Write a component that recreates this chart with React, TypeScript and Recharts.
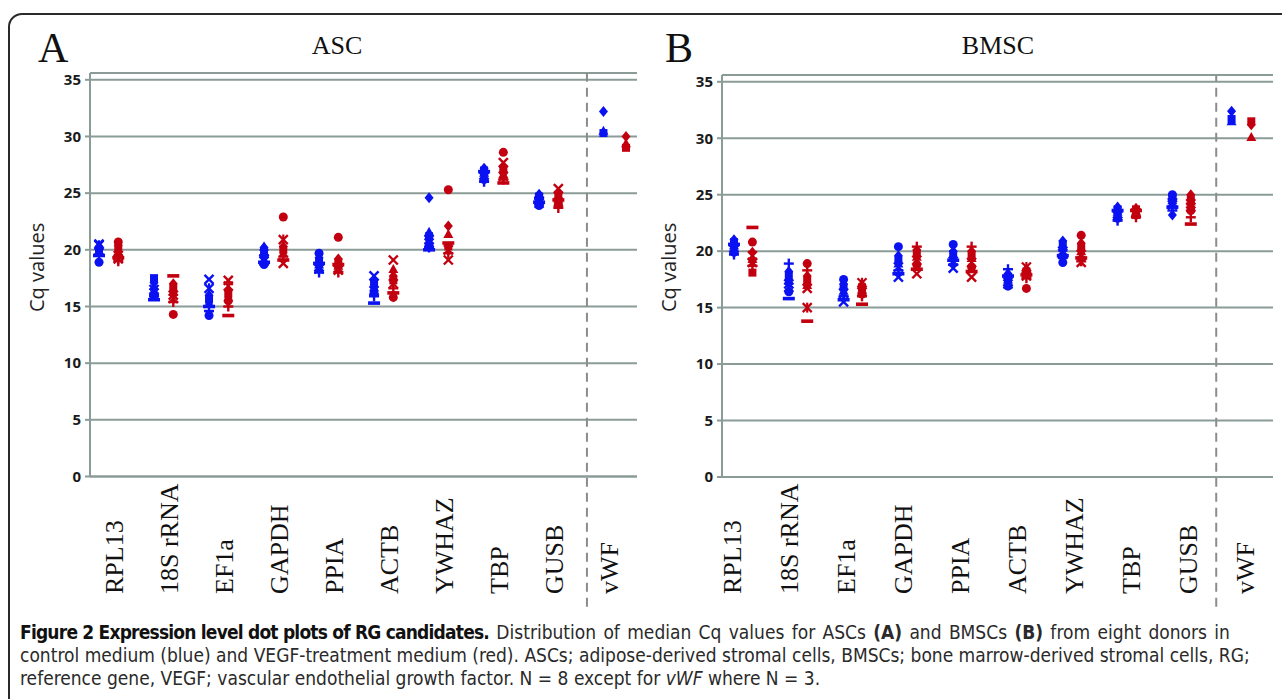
import React from 'react';
import { ScatterChart, Scatter, XAxis, YAxis, CartesianGrid, ReferenceLine } from 'recharts';

// ---------- data ----------
const genes = ['RPL13', '18S rRNA', 'EF1a', 'GAPDH', 'PPIA', 'ACTB', 'YWHAZ', 'TBP', 'GUSB', 'vWF'];
const yTicks = [0, 5, 10, 15, 20, 25, 30, 35];
const markerKinds = ['diamond', 'square', 'triangle', 'x', 'star', 'circle', 'plus', 'dash'];

// ASC, control medium (blue): one row per gene, one value per donor
const ascControl = [
  [20.3, 20.0, 19.8, 20.5, 20.4, 18.9, 19.6, 19.5],
  [17.1, 17.5, 16.8, 16.5, 16.2, 15.9, 16.0, 15.6],
  [16.0, 15.6, 15.3, 17.4, 16.6, 14.2, 14.6, 15.0],
  [20.2, 19.8, 20.3, 19.2, 19.0, 18.7, 19.5, 18.9],
  [19.3, 19.0, 18.7, 18.5, 18.3, 19.7, 18.0, 18.8],
  [17.3, 17.0, 16.7, 17.7, 16.4, 16.2, 15.9, 15.3],
  [24.6, 21.2, 21.6, 20.9, 20.6, 20.4, 20.2, 20.0],
  [27.2, 27.0, 26.8, 26.6, 26.4, 26.2, 26.0, 26.9],
  [24.9, 24.7, 24.5, 24.3, 24.1, 23.9, 24.6, 24.2],
  [32.2, 30.3, 30.5],
];
// ASC, VEGF-treatment medium (red)
const ascVegf = [
  [20.4, 20.1, 19.8, 19.5, 19.2, 20.7, 19.0, 19.3],
  [17.0, 16.6, 16.3, 16.0, 15.7, 14.3, 15.4, 17.7],
  [16.4, 16.1, 15.8, 17.3, 16.8, 15.5, 15.0, 14.2],
  [20.3, 20.0, 19.7, 18.8, 20.9, 22.9, 19.4, 19.1],
  [19.2, 18.9, 18.6, 18.2, 18.4, 21.1, 18.0, 18.7],
  [17.7, 17.3, 18.3, 19.1, 17.0, 15.8, 16.6, 16.2],
  [22.1, 20.3, 21.4, 19.1, 20.0, 25.3, 19.7, 20.6],
  [27.3, 27.0, 26.7, 27.7, 26.5, 28.6, 26.2, 25.9],
  [25.0, 24.7, 24.5, 25.4, 24.2, 24.0, 23.7, 24.4],
  [30.0, 29.0, 29.4],
];
// BMSC, control medium (blue)
const bmscControl = [
  [21.0, 20.8, 20.5, 20.3, 20.1, 19.9, 19.7, 20.6],
  [18.2, 17.8, 17.4, 17.1, 16.8, 16.4, 18.9, 15.8],
  [17.1, 16.8, 16.5, 15.5, 16.3, 17.5, 16.0, 15.7],
  [19.6, 19.2, 18.9, 17.7, 18.6, 20.4, 18.3, 18.0],
  [20.0, 19.7, 19.4, 18.5, 19.1, 20.6, 18.8, 19.2],
  [18.0, 17.7, 17.5, 17.3, 17.1, 16.9, 18.4, 17.8],
  [20.9, 20.6, 20.3, 20.0, 19.8, 19.0, 19.4, 19.6],
  [23.9, 23.7, 23.5, 23.3, 23.1, 22.9, 22.7, 23.6],
  [23.2, 24.8, 24.5, 24.3, 24.1, 25.0, 23.6, 23.9],
  [32.4, 31.7, 31.5],
];
// BMSC, VEGF-treatment medium (red)
const bmscVegf = [
  [19.9, 18.1, 19.3, 19.0, 19.6, 20.8, 18.7, 22.1],
  [17.8, 17.4, 17.0, 16.7, 15.0, 18.9, 18.3, 13.8],
  [17.0, 16.8, 16.6, 16.4, 17.2, 16.2, 16.0, 15.3],
  [20.1, 19.8, 19.5, 18.0, 19.2, 18.8, 20.4, 18.4],
  [20.0, 19.7, 19.4, 17.7, 19.0, 18.6, 20.4, 18.2],
  [18.4, 18.2, 18.0, 17.8, 18.6, 16.7, 17.6, 17.9],
  [20.7, 20.3, 20.0, 19.0, 19.7, 21.4, 19.1, 19.4],
  [23.8, 23.7, 23.5, 23.4, 23.3, 23.2, 23.0, 23.6],
  [25.0, 24.7, 24.4, 24.2, 23.9, 23.6, 23.0, 22.4],
  [31.2, 31.5, 30.1],
];

// ---------- style ----------
const BLUE = '#0a12f2';
const RED = '#c2000f';
const GRID = '#8a9b98';
const SERIF = '"Liberation Serif", "Times New Roman", serif';
const SANS = '"Open Sans", "Noto Sans", sans-serif';

function Marker({ cx, cy, kind, color }: any) {
  if (cx == null || cy == null || isNaN(cx) || isNaN(cy)) return null;
  const s = 4.5;
  switch (kind) {
    case 'diamond':
      return <polygon points={`${cx},${cy - s - 1} ${cx + s},${cy} ${cx},${cy + s + 1} ${cx - s},${cy}`} fill={color} />;
    case 'square':
      return <rect x={cx - s + 0.5} y={cy - s + 0.5} width={2 * s - 1} height={2 * s - 1} fill={color} />;
    case 'triangle':
      return <polygon points={`${cx},${cy - s - 0.5} ${cx + s + 0.5},${cy + s - 0.5} ${cx - s - 0.5},${cy + s - 0.5}`} fill={color} />;
    case 'x':
      return (
        <g stroke={color} strokeWidth={2.4}>
          <line x1={cx - s} y1={cy - s} x2={cx + s} y2={cy + s} />
          <line x1={cx - s} y1={cy + s} x2={cx + s} y2={cy - s} />
        </g>
      );
    case 'star':
      return (
        <g stroke={color} strokeWidth={2.2}>
          <line x1={cx - s} y1={cy - s} x2={cx + s} y2={cy + s} />
          <line x1={cx - s} y1={cy + s} x2={cx + s} y2={cy - s} />
          <line x1={cx} y1={cy - s - 0.5} x2={cx} y2={cy + s + 0.5} />
        </g>
      );
    case 'circle':
      return <circle cx={cx} cy={cy} r={s} fill={color} />;
    case 'plus':
      return (
        <g stroke={color} strokeWidth={2.4}>
          <line x1={cx - s - 0.5} y1={cy} x2={cx + s + 0.5} y2={cy} />
          <line x1={cx} y1={cy - s - 0.5} x2={cx} y2={cy + s + 0.5} />
        </g>
      );
    default:
      return <rect x={cx - 6} y={cy - 1.8} width={12} height={3.6} fill={color} />;
  }
}

function buildSeries(values: number[][], offset: number, vwfPos: number) {
  return markerKinds.map((kind, d) => ({
    kind,
    data: values
      .map((row, i) => (row[d] === undefined ? null : { x: i === genes.length - 1 ? vwfPos : i + offset, y: row[d] }))
      .filter((p) => p !== null),
  }));
}

type PanelProps = {
  left: number;
  width: number;
  marginTop: number;
  marginRight: number;
  xAxisHeight: number;
  xMin: number;
  xMax: number;
  control: number[][];
  vegf: number[][];
  redOffset: number;
  vwfBlue: number;
  vwfRed: number;
  divider: number;
  labelStart: number;
  labelStep: number;
  labelDrop: number;
};

function Panel(p: PanelProps) {
  const blueSeries = buildSeries(p.control, 0, p.vwfBlue);
  const redSeries = buildSeries(p.vegf, p.redOffset, p.vwfRed);
  const labelTicks = genes.map((_, i) => p.labelStart + i * p.labelStep);

  const GeneTick = (tp: any) => {
    const { x, y, index } = tp;
    return (
      <text
        transform={`translate(${x},${y + p.labelDrop}) rotate(-90)`}
        textAnchor="start"
        dy="0.33em"
        fontFamily={SERIF}
        fontSize={26}
        fill="#111"
      >
        {genes[index]}
      </text>
    );
  };

  return (
    <div style={{ position: 'absolute', left: p.left, top: 0 }}>
      <ScatterChart
        width={p.width}
        height={620}
        margin={{ top: p.marginTop, right: p.marginRight, left: 30, bottom: 0 }}
      >
        <CartesianGrid vertical={false} stroke={GRID} strokeWidth={2} />
        <XAxis
          type="number"
          dataKey="x"
          domain={[p.xMin, p.xMax]}
          allowDataOverflow
          ticks={labelTicks}
          interval={0}
          height={p.xAxisHeight}
          tickSize={0}
          tickMargin={0}
          tickLine={false}
          axisLine={{ stroke: GRID, strokeWidth: 2 }}
          tick={<GeneTick />}
        />
        <YAxis
          type="number"
          dataKey="y"
          domain={[0, 35.6]}
          allowDataOverflow
          ticks={yTicks}
          interval={0}
          width={60}
          tickSize={5}
          tickMargin={4}
          axisLine={{ stroke: GRID, strokeWidth: 2 }}
          tickLine={{ stroke: GRID, strokeWidth: 2 }}
          tick={{ fill: '#1a1a1a', fontSize: 15, fontWeight: 700, fontFamily: SANS }}
        />
        <ReferenceLine
          segment={[{ x: p.divider, y: -11.5 }, { x: p.divider, y: 35.6 }]}
          stroke="#8c8c8c"
          strokeWidth={2}
          strokeDasharray="9 6"
          ifOverflow="visible"
        />
        {blueSeries.map((s, k) => (
          <Scatter
            key={`b${k}`}
            data={s.data}
            isAnimationActive={false}
            shape={(sp: any) => <Marker cx={sp.cx} cy={sp.cy} kind={s.kind} color={BLUE} />}
          />
        ))}
        {redSeries.map((s, k) => (
          <Scatter
            key={`r${k}`}
            data={s.data}
            isAnimationActive={false}
            shape={(sp: any) => <Marker cx={sp.cx} cy={sp.cy} kind={s.kind} color={RED} />}
          />
        ))}
      </ScatterChart>
    </div>
  );
}

export default function App() {
  return (
    <div
      style={{
        position: 'absolute',
        left: 0,
        top: 0,
        width: 1282,
        height: 699,
        overflow: 'hidden',
        background: '#fff',
      }}
    >
      <div
        style={{
          position: 'absolute',
          left: 8,
          top: 13,
          width: 1320,
          height: 740,
          border: '2px solid #2a2a2a',
          borderTopLeftRadius: 14,
        }}
      />
      <Panel
        left={0}
        width={660}
        marginTop={73}
        marginRight={23}
        xAxisHeight={143.5}
        xMin={-0.164}
        xMax={9.78}
        control={ascControl}
        vegf={ascVegf}
        redOffset={0.35}
        vwfBlue={9.17}
        vwfRed={9.58}
        divider={8.87}
        labelStart={0.28}
        labelStep={1}
        labelDrop={117.5}
      />
      <Panel
        left={632}
        width={651}
        marginTop={75}
        marginRight={10}
        xAxisHeight={143}
        xMin={-0.219}
        xMax={9.836}
        control={bmscControl}
        vegf={bmscVegf}
        redOffset={0.336}
        vwfBlue={9.08}
        vwfRed={9.44}
        divider={8.8}
        labelStart={-0.02}
        labelStep={1.04}
        labelDrop={117}
      />
      <svg style={{ position: 'absolute', left: 0, top: 0 }} width={1282} height={699}>
        <text x={38} y={62} fontFamily={SERIF} fontSize={42} fill="#111">A</text>
        <text x={337} y={54} fontFamily={SERIF} fontSize={26} fill="#111" textAnchor="middle">ASC</text>
        <text x={665} y={62} fontFamily={SERIF} fontSize={42} fill="#111">B</text>
        <text x={998} y={54} fontFamily={SERIF} fontSize={26} fill="#111" textAnchor="middle">BMSC</text>
        <text transform="translate(37,312) rotate(-90)" dy="0.35em" fontFamily={SANS} fontSize={20} fill="#222">Cq values</text>
        <text transform="translate(669,312) rotate(-90)" dy="0.35em" fontFamily={SANS} fontSize={20} fill="#222">Cq values</text>
      </svg>
      <div
        style={{
          position: 'absolute',
          left: 20,
          top: 621,
          width: 1260,
          fontFamily: '"DejaVu Sans Condensed", "Liberation Sans Narrow", "DejaVu Sans", sans-serif',
          fontStretch: 'condensed',
          fontSize: 19,
          lineHeight: '23px',
          color: '#2a2a2a',
          whiteSpace: 'nowrap',
        }}
      >
        <div>
          <b style={{ color: '#111', letterSpacing: '-0.8px' }}>Figure 2 Expression level dot plots of RG candidates.</b>
          <span style={{ wordSpacing: '1.9px' }}> Distribution of median Cq values for ASCs <b>(A)</b> and BMSCs <b>(B)</b> from eight donors in</span>
        </div>
        <div>
          control medium (blue) and VEGF-treatment medium (red). ASCs; adipose-derived stromal cells, BMSCs; bone marrow-derived stromal cells, RG;
        </div>
        <div>
          reference gene, VEGF; vascular endothelial growth factor. N = 8 except for <i>vWF</i> where N = 3.
        </div>
      </div>
    </div>
  );
}
